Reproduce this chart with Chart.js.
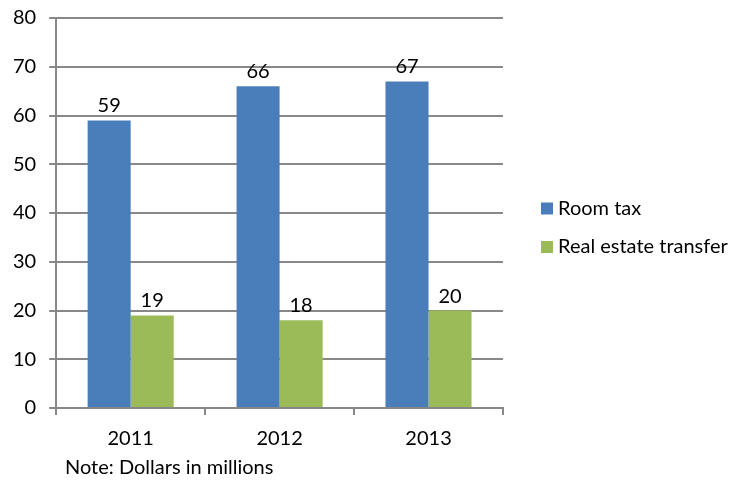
<!DOCTYPE html>
<html>
<head>
<meta charset="utf-8">
<script src="https://cdn.jsdelivr.net/npm/chart.js@4"></script>
<style>
  html, body { margin: 0; padding: 0; background: #fff; }
  #wrap { width: 750px; height: 481px; }
</style>
</head>
<body>
<div id="wrap"><canvas id="chart"></canvas></div>
<script>
const years = ['2011', '2012', '2013'];
const roomTax = [59, 66, 67];
const realEstate = [19, 18, 20];
const seriesNames = ['Room tax', 'Real estate transfer'];
const yTicks = [0, 10, 20, 30, 40, 50, 60, 70, 80];

const FONT = 'Lato, "Open Sans", sans-serif';
const GRID = '#888888';

// value labels above each bar
const barLabels = {
  id: 'barLabels',
  afterDatasetsDraw(chart) {
    const ctx = chart.ctx;
    ctx.save();
    ctx.font = '20px ' + FONT;
    ctx.fillStyle = '#000';
    ctx.textAlign = 'center';
    ctx.textBaseline = 'alphabetic';
    chart.data.datasets.forEach((ds, i) => {
      chart.getDatasetMeta(i).data.forEach((bar, j) => {
        ctx.fillText(ds.data[j], bar.x, bar.y - 8);
      });
    });
    ctx.restore();
  }
};

// legend on the right and the note under the axis
const sideLegend = {
  id: 'sideLegend',
  afterDraw(chart) {
    const ctx = chart.ctx;
    ctx.save();
    ctx.font = '20px ' + FONT;
    ctx.textBaseline = 'middle';
    chart.data.datasets.forEach((ds, i) => {
      const y = 208.5 + i * 38.5;
      ctx.fillStyle = ds.backgroundColor;
      ctx.fillRect(541, y - 6, 12, 12);
      ctx.fillStyle = '#000';
      ctx.fillText(ds.label, 558, y);
    });
    ctx.fillText('Note: Dollars in millions', 65, 468);
    ctx.restore();
  }
};

new Chart(document.getElementById('chart'), {
  type: 'bar',
  data: {
    labels: years,
    datasets: [
      { label: seriesNames[0], data: roomTax, backgroundColor: '#4a7ebb' },
      { label: seriesNames[1], data: realEstate, backgroundColor: '#9bbb59' }
    ]
  },
  options: {
    responsive: true,
    maintainAspectRatio: false,
    animation: false,
    categoryPercentage: 0.578,
    barPercentage: 1,
    layout: { padding: { left: 0, right: 247, top: 18, bottom: 18 } },
    plugins: { legend: { display: false }, tooltip: { enabled: false } },
    scales: {
      x: {
        offset: true,
        grid: {
          offset: true,
          drawOnChartArea: false,
          color: GRID,
          lineWidth: 2,
          tickLength: 7
        },
        border: { color: GRID, width: 2 },
        ticks: { color: '#000', font: { family: FONT, size: 20 }, padding: 12 }
      },
      y: {
        min: 0,
        max: 80,
        afterBuildTicks(scale) {
          scale.ticks = yTicks.map(v => ({ value: v }));
        },
        // the top label may poke above the plot, the page padding covers it
        afterFit(scale) {
          scale.paddingTop = 0;
          scale.paddingBottom = 0;
        },
        grid: { color: GRID, lineWidth: 2, tickLength: 7 },
        border: { color: GRID, width: 2 },
        ticks: { color: '#000', font: { family: FONT, size: 20 }, padding: 13 }
      }
    }
  },
  plugins: [barLabels, sideLegend]
});
</script>
</body>
</html>
